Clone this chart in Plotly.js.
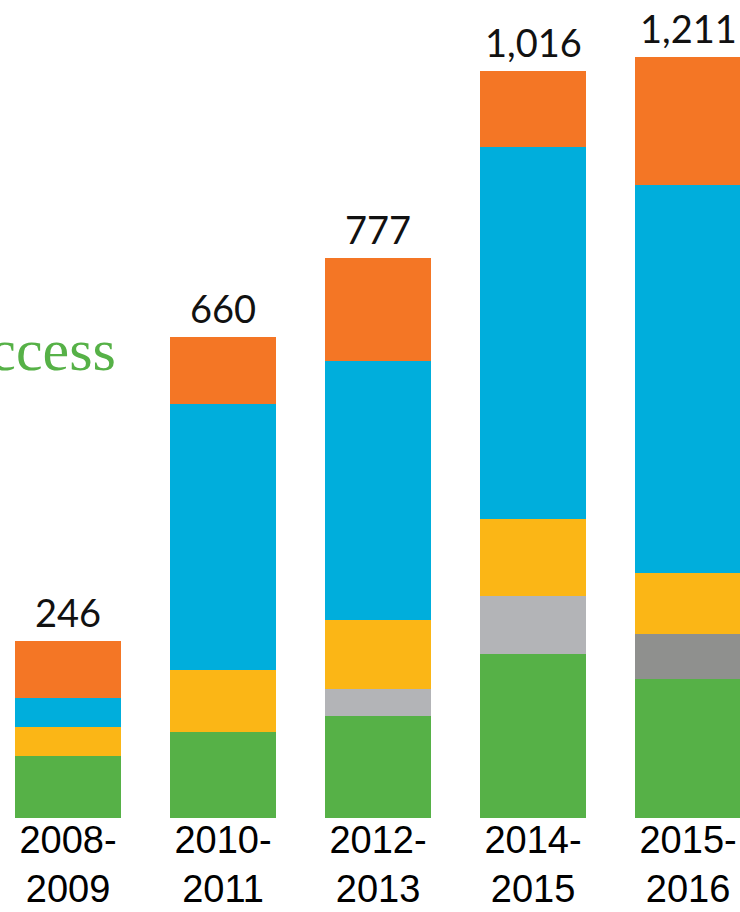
<!DOCTYPE html>
<html>
<head>
<meta charset="utf-8">
<script src="https://cdn.plot.ly/plotly-3.0.1.min.js"></script>
<style>html,body{margin:0;padding:0;background:#fff;}#chart{width:740px;height:912px;}</style>
</head>
<body>
<div id="chart"></div>
<script>
// Categories (school years)
var categories = ["2008-<br>2009", "2010-<br>2011", "2012-<br>2013", "2014-<br>2015", "2015-<br>2016"];
// Total labels printed above bars
var totalLabels = ["246", "660", "777", "1,016", "1,211"];
// Segment values (bottom to top)
var greenVals     = [85, 118, 141, 225, 191];
var lightGrayVals = [0, 0, 36, 81, 0];
var darkGrayVals  = [0, 0, 0, 0, 62];
var yellowVals    = [40, 85, 95, 105, 84];
var blueVals      = [40, 367, 356, 512, 534];
var orangeVals    = [79, 92, 142, 105, 176];
var sideLabel = "Access";

var series = [
  {name: "Access", vals: greenVals, color: "#56b147"},
  {name: "Gray", vals: lightGrayVals, color: "#b3b4b7"},
  {name: "Dark gray", vals: darkGrayVals, color: "#8f908e"},
  {name: "Yellow", vals: yellowVals, color: "#fbb616"},
  {name: "Blue", vals: blueVals, color: "#00aedc"},
  {name: "Orange", vals: orangeVals, color: "#f47625"}
];

var traces = series.map(function (s) {
  return {
    type: "bar",
    x: categories,
    y: s.vals,
    name: s.name,
    marker: {color: s.color, line: {width: 0}},
    hoverinfo: "skip"
  };
});

var annotations = categories.map(function (c, i) {
  var top = 0;
  series.forEach(function (s) { top += s.vals[i]; });
  return {
    x: c, y: top, xref: "x", yref: "y",
    text: totalLabels[i], showarrow: false,
    xanchor: "center", yanchor: "bottom", yshift: 4,
    font: {family: "Lato, 'Liberation Sans', sans-serif", size: 38, color: "#111"}
  };
});

annotations.push({
  xref: "paper", yref: "paper", x: 118 / 740, y: 0.572,
  xanchor: "right", yanchor: "middle",
  text: sideLabel, showarrow: false,
  font: {family: "'Liberation Serif', 'DejaVu Serif', serif", size: 60, color: "#56b147"}
});

var layout = {
  width: 740, height: 912,
  margin: {l: 0, r: 0, t: 0, b: 94, pad: 0},
  paper_bgcolor: "#ffffff", plot_bgcolor: "#ffffff",
  barmode: "stack", bargap: 0.316,
  showlegend: false,
  xaxis: {
    type: "category",
    range: [-0.4387, 4.335],
    showline: false, showgrid: false, zeroline: false, ticks: "",
    ticklabelstandoff: -4,
    tickfont: {family: "'Liberation Sans', Arial, sans-serif", size: 38, color: "#000"},
    fixedrange: true
  },
  yaxis: {
    range: [0, 1125.2],
    visible: false, showgrid: false, zeroline: false,
    fixedrange: true
  },
  annotations: annotations
};

Plotly.newPlot("chart", traces, layout, {displayModeBar: false, staticPlot: true});
</script>
</body>
</html>
